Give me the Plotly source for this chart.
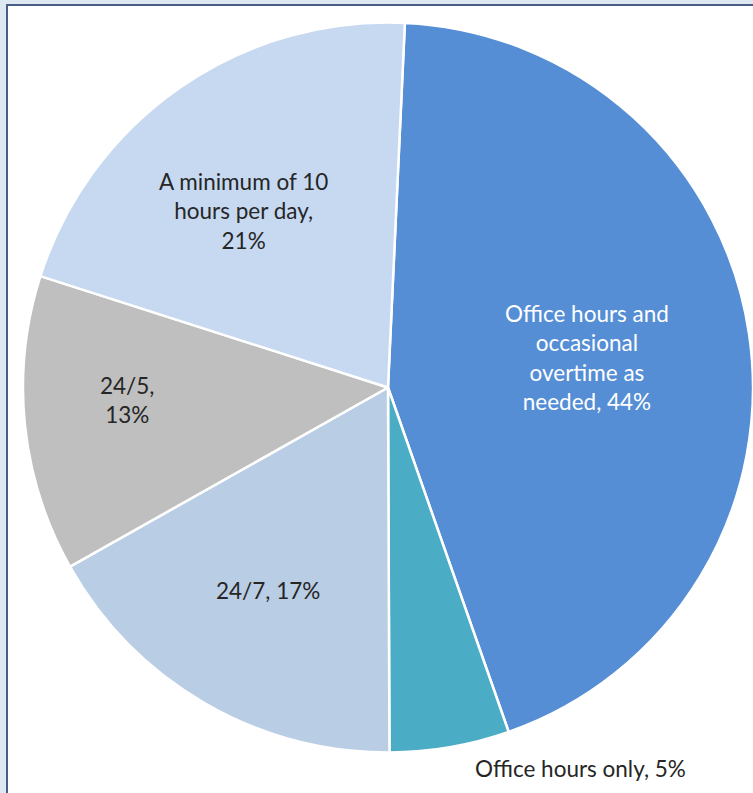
import plotly.graph_objects as go

categories = [
    "Office hours and occasional overtime as needed",
    "Office hours only",
    "24/7",
    "24/5",
    "A minimum of 10 hours per day",
]
values = [43.9, 5.3, 16.9, 13.1, 20.8]
label_text = [
    "Office hours and<br>occasional<br>overtime as<br>needed, 44%",
    "Office hours only, 5%",
    "24/7, 17%",
    "24/5,<br>13%",
    "A minimum of 10<br>hours per day,<br>21%",
]
colors = ["#558ED5", "#4BACC6", "#B9CDE5", "#BFBFBF", "#C6D9F1"]

W, H = 753, 793
cx, cy, r = 388, 387.5, 365

fig = go.Figure()
fig.add_trace(go.Pie(
    labels=categories,
    values=values,
    sort=False,
    direction="clockwise",
    rotation=2.65,
    marker=dict(colors=colors, line=dict(color="white", width=2.5)),
    textinfo="none",
    hoverinfo="label+percent",
    showlegend=False,
    domain=dict(x=[(cx - r) / W, min(1.0, (cx + r) / W)],
                y=[(H - cy - r) / H, (H - cy + r) / H]),
))

# label anchor positions (pixels) and font colours
label_pos = [(587, 357), (580, 768), (268, 590), (127, 400), (243, 211)]
label_col = ["white", "#262626", "#262626", "#262626", "#262626"]

fig.add_shape(type="rect", xref="paper", yref="paper",
              x0=7 / W, x1=1.05, y0=-0.05, y1=1 - 5 / H,
              fillcolor="white", line=dict(color="#4A5E83", width=2), layer="below")

for txt, (px, py), col in zip(label_text, label_pos, label_col):
    fig.add_annotation(text=txt, x=px / W, y=1 - py / H, xref="paper", yref="paper",
                       showarrow=False, xanchor="center", yanchor="middle",
                       align="center", font=dict(color=col, size=22.5, family="Lato"))

fig.update_layout(
    width=W, height=H,
    margin=dict(l=0, r=0, t=0, b=0),
    paper_bgcolor="#DEE8F3",
    plot_bgcolor="white",
    font=dict(family="Lato", color="#262626"),
)

fig.write_html(
    "out.html",
    config={"displayModeBar": False},
    post_script="document.body.style.margin='0';document.body.style.overflow='hidden';",
)
